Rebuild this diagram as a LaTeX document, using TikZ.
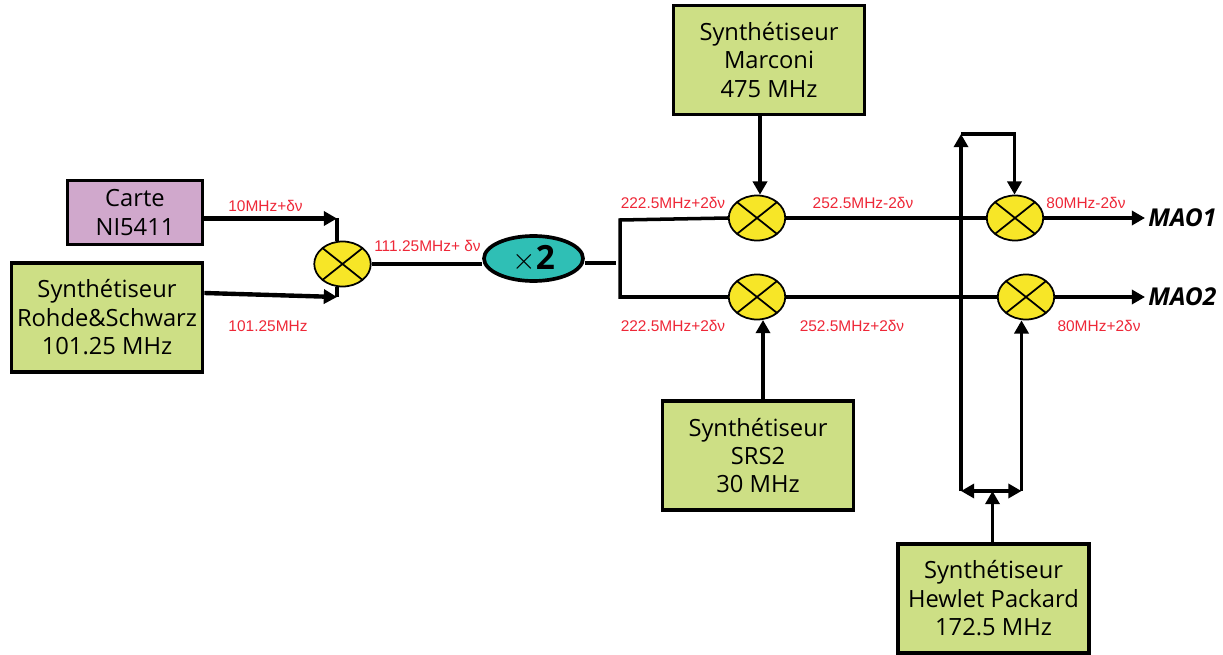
\documentclass[tikz,border=0pt]{standalone}
\usepackage{fontspec}
\setmainfont{Open Sans}
\newfontfamily\freqfont{Liberation Sans}
\usetikzlibrary{positioning,arrows.meta,calc,shapes.geometric}
\definecolor{synthgreen}{HTML}{CDDF85}
\definecolor{cartepurple}{HTML}{D0A8CC}
\definecolor{mixyellow}{HTML}{F7E627}
\definecolor{multteal}{HTML}{2FBFB5}
\definecolor{freqred}{HTML}{EE2737}
\tikzset{
  synth/.style={draw, line width=2.1pt, fill=synthgreen, align=center, font=\fontsize{13.5}{16.2}\selectfont, minimum width=3.82cm, minimum height=2.18cm, inner sep=0pt},
  carte/.style={synth, fill=cartepurple, minimum width=2.7cm, minimum height=1.28cm},
  mixer/.style={ellipse, draw, line width=1pt, fill=mixyellow, minimum width=1.13cm, minimum height=0.9cm, inner sep=0pt,
    path picture={
      \draw (path picture bounding box.north west) -- (path picture bounding box.south east);
      \draw (path picture bounding box.south west) -- (path picture bounding box.north east);
    }},
  mult/.style={ellipse, draw, line width=2.1pt, fill=multteal, minimum width=1.98cm, minimum height=0.9cm, inner sep=0pt},
  freq/.style={text=freqred, font=\freqfont\fontsize{8.8}{10}\selectfont, inner sep=0pt},
  sortie/.style={anchor=west, inner sep=0pt, font=\bfseries\itshape\fontsize{14}{16}\selectfont},
  wire/.style={line width=2pt},
  feed/.style={wire, -{Triangle[length=7.5pt,width=8pt]}},
  heavyfeed/.style={feed, line width=2.5pt},
}
\begin{document}
\begin{tikzpicture}[x=0.02cm, y=-0.02cm]
    \useasboundingbox (0,0) rectangle (1223,655);
    % sources on the left
    \node (carte) at (135,212.5) [carte] {Carte\\NI5411};
    \node (rohde) at (107,317.5) [synth] {Synthétiseur\\Rohde\&Schwarz\\101.25 MHz};
    \node (marconi) at (769,60) [synth] {Synthétiseur\\Marconi\\475 MHz};
    \node (srs) at (758,455.5) [synth] {Synthétiseur\\SRS2\\30 MHz};
    \node (hp) at (993.5,598.5) [synth] {Synthétiseur\\Hewlet Packard\\172.5 MHz};
    % mixers and doubler
    \node (mixA) at (342.5,264) [mixer] {};
    \node (doubler) at (533.5,258.5) [mult] {\fontsize{17}{17}\selectfont$\times$\fontsize{19}{20}\selectfont\bfseries 2};
    \node (mixB) at (757,218) [mixer] {};
    \node (mixC) at (757,297) [mixer] {};
    \node (mixD) at (1015,218) [mixer] {};
    \node (mixE) at (1026,297) [mixer] {};
    % outputs
    \node (mao1) at (1148,218) [sortie] {MAO1};
    \node (mao2) at (1148,297) [sortie] {MAO2};
    % corners
    \coordinate (inA) at (337,218.5);
    \coordinate (inB) at (337,297);
    \coordinate (stub) at (616,263);
    \coordinate (splitT) at (620,220);
    \coordinate (splitB) at (620,297);
    \coordinate (loopL) at (961,134);
    \coordinate (loopR) at (1014.5,134);
    \coordinate (hubC) at (992.5,491);
    \coordinate (hubL) at (961,491);
    \coordinate (hubR) at (1021.5,491);
    % left part
    \draw[heavyfeed] (carte.east |- inA) -- (inA);
    \draw[heavyfeed] (rohde.east |- 0,293) -- (inB);
    \draw[wire] (inA) -- (inA |- mixA.north);
    \draw[wire] (inB) -- (inB |- mixA.south);
    \draw[wire] (mixA.east) -- (mixA.east -| doubler.west);
    \draw[wire] (doubler.east |- stub) -- (stub);
    \draw[wire, line join=miter] (mixB.west) -- (splitT) -- (splitB) -- (mixC.west);
    % right part
    \draw[wire] (mixB.east) -- (mixD.west);
    \draw[wire] (mixC.east) -- (mixE.west);
    \draw[heavyfeed] (marconi.south -| 760,0) -- (mixB.north -| 760,0);
    \draw[feed] (srs.north -| 763,0) -- (763,320);
    \draw[heavyfeed] (mixD.east) -- (1145,218);
    \draw[heavyfeed] (mixE.east) -- (1145,297);
    \draw[feed] (hubL) -- (loopL);
    \draw[feed, line join=miter] (loopL) -- (loopR) -- (mixD.north -| loopR);
    \draw[feed] (hubR) -- (hubR |- mixE.south);
    \draw[feed] (hp.north -| hubC) -- (hubC);
    \draw[feed] (hubC) -- (hubL);
    \draw[feed] (hubC) -- (hubR);
    % frequencies
    \node (f1) at (265.5,206) [freq] {10MHz+δν};
    \node (f2) at (268,326) [freq] {101.25MHz};
    \node (f3) at (427.5,246) [freq] {111.25MHz+ δν};
    \node (f4) at (673,203) [freq] {222.5MHz+2δν};
    \node (f5) at (673,326) [freq] {222.5MHz+2δν};
    \node (f6) at (863,203) [freq] {252.5MHz-2δν};
    \node (f7) at (852,326) [freq] {252.5MHz+2δν};
    \node (f8) at (1086,203) [freq] {80MHz-2δν};
    \node (f9) at (1099,326) [freq] {80MHz+2δν};
  \end{tikzpicture}
\end{document}
